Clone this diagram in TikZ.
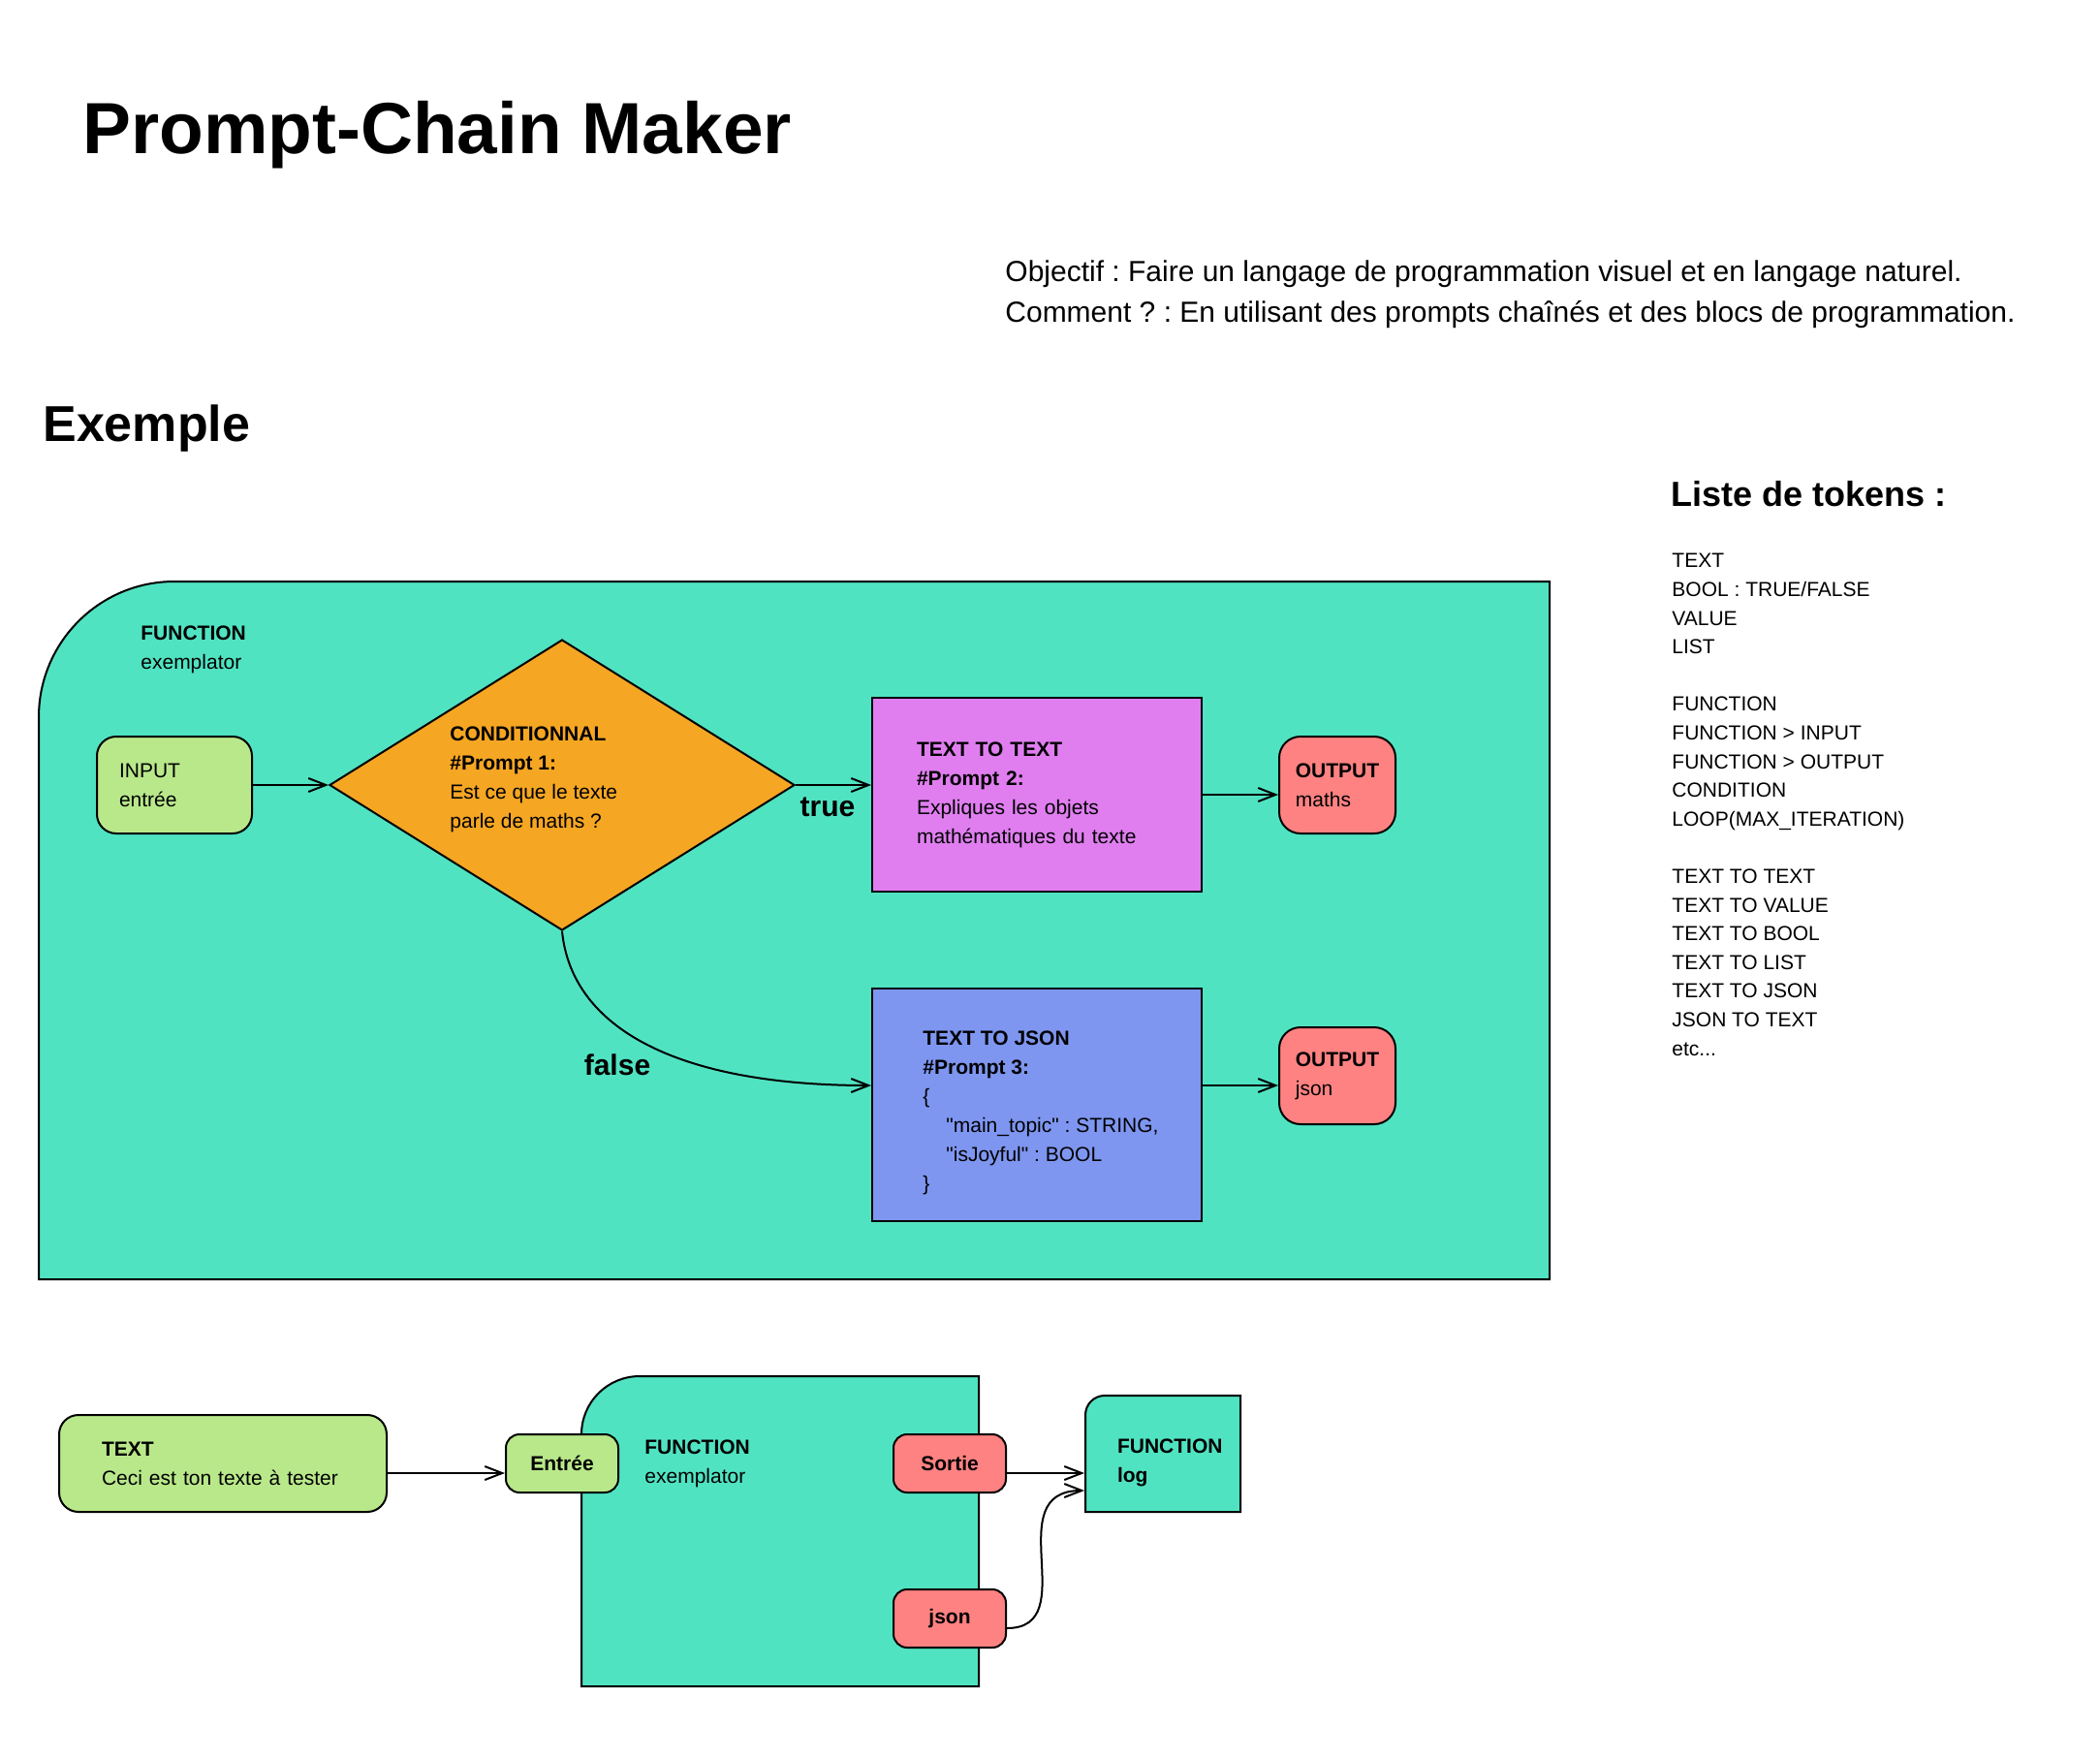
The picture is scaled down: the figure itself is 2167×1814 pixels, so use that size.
\documentclass[tikz,border=0pt]{standalone}
\usepackage{fontspec}
\setmainfont{Liberation Sans}
\usepackage{tikz}
\usepackage{xcolor}
\usetikzlibrary{positioning, arrows.meta, shapes.geometric}
\frenchspacing
\definecolor{pcteal}{RGB}{80, 227, 194}
\definecolor{pcgreen}{RGB}{185, 232, 138}
\definecolor{pcorange}{RGB}{245, 166, 35}
\definecolor{pcpink}{RGB}{224, 126, 240}
\definecolor{pcblue}{RGB}{126, 150, 240}
\definecolor{pcred}{RGB}{255, 130, 130}
\tikzset{
    pcnode/.style={draw=black, line width=1pt, align=left, inner sep=0pt, font=\fontsize{10.5}{15}\selectfont},
    innode/.style={pcnode, fill=pcgreen, rounded corners=10pt},
    outnode/.style={pcnode, fill=pcred, rounded corners=11pt, minimum width=60pt, minimum height=50pt},
    condnode/.style={pcnode, diamond, fill=pcorange, minimum width=240pt, minimum height=150pt},
    promptnode/.style={pcnode, minimum width=170pt},
    portnode/.style={pcnode, rounded corners=7pt, minimum width=58pt, minimum height=30pt, font=\fontsize{10.5}{15}\selectfont\bfseries},
    fnbox/.style={draw=black, line width=1pt, fill=pcteal},
    txt/.style={inner sep=0pt, align=left, font=\fontsize{10.5}{15}\selectfont},
    flow/.style={draw=black, line width=1pt, -{Straight Barb[length=9pt, width=7pt]}},
    branch/.style={inner sep=0pt, font=\fontsize{15}{18}\selectfont\bfseries}
}

\begin{document}
\begin{tikzpicture}[x=0.5pt, y=-0.5pt]
    \fill[white] (0,0) rectangle (2167,1814);
    \useasboundingbox (0,0) rectangle (2167,1814);

    \node[anchor=base west, inner sep=0pt, font=\fontsize{37.4}{44}\selectfont\bfseries] (title) at (85,158) {Prompt-Chain Maker};
    \node[txt, anchor=west, font=\fontsize{15}{21}\selectfont] (goal) at (1037,304) {Objectif : Faire un langage de programmation visuel et en langage naturel.\\Comment ? : En utilisant des prompts chaînés et des blocs de programmation.};
    \node[anchor=base west, inner sep=0pt, font=\fontsize{26}{30}\selectfont\bfseries] (example) at (44,455) {Exemple};
    \node[anchor=base west, inner sep=0pt, font=\fontsize{18}{22}\selectfont\bfseries] (tokens) at (1724,522) {Liste de tokens :};
    \node[txt, anchor=north west, font=\fontsize{10.5}{14.8}\selectfont] (tokenlist) at (1725,571) {TEXT\\BOOL : TRUE/FALSE\\VALUE\\LIST\\[14.8pt]FUNCTION\\FUNCTION > INPUT\\FUNCTION > OUTPUT\\CONDITION\\LOOP(MAX\_ITERATION)\\[14.8pt]TEXT TO TEXT\\TEXT TO VALUE\\TEXT TO BOOL\\TEXT TO LIST\\TEXT TO JSON\\JSON TO TEXT\\etc...};

    \draw[fnbox] (40,1320) -- (40,740) arc[start angle=180, end angle=270, radius=140] -- (1599,600) -- (1599,1320) -- cycle;
    \node[txt, anchor=west] (fnmain) at (145,670) {\textbf{FUNCTION}\\exemplator};

    \node[innode, text width=57pt, inner xsep=11.5pt, minimum height=50pt] (input) at (180,810) {INPUT\\entrée};
    \node[condnode] (cond) at (580,810) {};
    \node[txt, anchor=west] (condtext) at (464,804) {\textbf{CONDITIONNAL}\\\textbf{\#Prompt 1:}\\Est ce que le texte\\parle de maths ?};
    \node[promptnode, fill=pcpink, text width=124pt, inner xsep=23pt, minimum height=100pt] (tt) at (1070,820) {\textbf{TEXT TO TEXT}\\\textbf{\#Prompt 2:}\\Expliques les objets\\mathématiques du texte};
    \node[promptnode, fill=pcblue, minimum height=120pt] (tj) at (1070,1140) {};
    \node[txt, anchor=west] (tjtext) at (952,1148) {\textbf{TEXT TO JSON}\\\textbf{\#Prompt 3:}\\\{\\\hspace*{12pt}\textquotedbl main\_topic\textquotedbl{} : STRING,\\\hspace*{12pt}\textquotedbl isJoyful\textquotedbl{} : BOOL\\\}};
    \node[outnode] (outmaths) at (1380,810) {\textbf{OUTPUT}\\maths};
    \node[outnode] (outjson) at (1380,1110) {\textbf{OUTPUT}\\json};

    \draw[flow] (input.east) -- (cond.west);
    \draw[flow] (cond.east) -- (cond.east -| tt.west);
    \draw[flow] (tt.east) -- (tt.east -| outmaths.west);
    \draw[flow] (cond.south) .. controls +(10,100) and +(-200,0) .. ([yshift=10pt]tj.west);
    \draw[flow] ([yshift=10pt]tj.east) -- ([yshift=-5pt]outjson.west);
    \node[branch] (truelbl) at (854,833) {true};
    \node[branch] (falselbl) at (637,1099) {false};

    \node[innode, text width=125pt, inner xsep=22pt, minimum height=50pt] (textin) at (230,1510) {\textbf{TEXT}\\Ceci est ton texte à tester};
    \draw[fnbox] (600,1740) -- (600,1480) arc[start angle=180, end angle=270, radius=60] -- (1010,1420) -- (1010,1740) -- cycle;
    \node[txt, anchor=west] (fnsub) at (665,1510) {\textbf{FUNCTION}\\exemplator};
    \node[portnode, fill=pcgreen] (entree) at (580,1510) {Entrée};
    \node[portnode, fill=pcred] (sortie) at (980,1510) {Sortie};
    \node[portnode, fill=pcred] (jsonout) at (980,1670) {json};
    \draw[fnbox] (1120,1560) -- (1120,1460) arc[start angle=180, end angle=270, radius=20] -- (1280,1440) -- (1280,1560) -- cycle;
    \node[pcnode, draw=none, text width=47pt, inner xsep=16.5pt, minimum height=60pt, font=\fontsize{10.5}{15}\selectfont\bfseries] (logfn) at (1200,1509) {FUNCTION\\log};

    \draw[flow] ([yshift=-5pt]textin.east) -- ([yshift=-5pt]entree.west);
    \draw[flow] ([yshift=-5pt]sortie.east) -- ([yshift=-5.5pt]logfn.west);
    \draw[flow] ([yshift=-5pt]jsonout.east) .. controls +(80,0) and +(-90,0) .. ([yshift=-14.5pt]logfn.west);
\end{tikzpicture}
\end{document}
